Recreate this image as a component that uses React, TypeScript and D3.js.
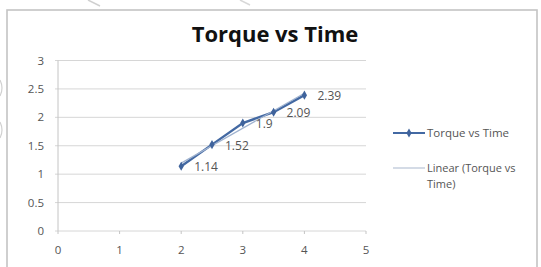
import React from "react";
import * as d3 from "d3";

const times = [2, 2.5, 3, 3.5, 4];
const torques = [1.14, 1.52, 1.9, 2.09, 2.39];
const xTicks = [0, 1, 2, 3, 4, 5];
const yTicks = [0, 0.5, 1, 1.5, 2, 2.5, 3];
const title = "Torque vs Time";
const legendSeries = "Torque vs Time";
const legendTrend = ["Linear (Torque vs", "Time)"];

const W = 541;
const H = 267;
const FONT = "'Open Sans', 'DejaVu Sans', sans-serif";

export default function App() {
  const x = d3.scaleLinear().domain([0, 5]).range([58, 366]);
  const y = d3.scaleLinear().domain([0, 3]).range([231, 60.5]);

  const pts = times.map((t, i) => ({ t, v: torques[i] }));
  const line = d3
    .line<{ t: number; v: number }>()
    .x((d) => x(d.t))
    .y((d) => y(d.v));

  // least squares trend line
  const mx = d3.mean(times) as number;
  const my = d3.mean(torques) as number;
  const sxy = d3.sum(times.map((t, i) => (t - mx) * (torques[i] - my)));
  const sxx = d3.sum(times.map((t) => (t - mx) * (t - mx)));
  const slope = sxy / sxx;
  const icpt = my - slope * mx;
  const tmin = d3.min(times) as number;
  const tmax = d3.max(times) as number;

  const diamond = d3.symbol().type(d3.symbolDiamond).size(24)() as string;

  return (
    <div style={{ position: "fixed", left: 0, top: 0 }}>
      <svg width={W} height={H} style={{ display: "block", background: "#fff" }}>
        {/* scan artifacts outside the chart */}
        <path d="M88,0 L100,6" stroke="#d0d0d0" strokeWidth={1.5} fill="none" />
        <path d="M240,0 L250,5" stroke="#d8d8d8" strokeWidth={1.5} fill="none" />
        <path d="M0,80 Q4,88 0,96" stroke="#d0d0d0" strokeWidth={1.2} fill="none" />
        <path d="M0,122 Q4,130 0,138" stroke="#d0d0d0" strokeWidth={1.2} fill="none" />

        {/* chart border */}
        <rect x={7} y={10} width={530} height={270} fill="#fff" stroke="#c4c4c4" strokeWidth={1.6} />

        {/* title */}
        <text x={275} y={42} textAnchor="middle" fontFamily={FONT} fontWeight={700} fontSize={22} fill="#111">
          {title}
        </text>

        {/* gridlines */}
        {yTicks.map((v) => (
          <line key={"g" + v} x1={x(0) - 3} x2={x(5)} y1={y(v)} y2={y(v)} stroke="#d6d6d6" strokeWidth={1} />
        ))}
        {/* y axis */}
        <line x1={x(0)} x2={x(0)} y1={y(3)} y2={y(0)} stroke="#c4c4c4" strokeWidth={1} />
        {/* x ticks */}
        {xTicks.map((v) => (
          <line key={"xt" + v} x1={x(v)} x2={x(v)} y1={y(0)} y2={y(0) + 3} stroke="#c4c4c4" strokeWidth={1} />
        ))}

        {/* y tick labels */}
        {yTicks.map((v) => (
          <text key={"yl" + v} x={44} y={y(v)} dy="0.35em" textAnchor="end" fontFamily={FONT} fontSize={11.5} fill="#555">
            {String(v)}
          </text>
        ))}
        {/* x tick labels */}
        {xTicks.map((v) => (
          <text key={"xl" + v} x={x(v)} y={250} dy="0.35em" textAnchor="middle" fontFamily={FONT} fontSize={11.5} fill="#555">
            {String(v)}
          </text>
        ))}

        {/* series line */}
        <path d={line(pts) as string} fill="none" stroke="#4369a3" strokeWidth={2.4} />
        {/* trend line */}
        <line
          x1={x(tmin)}
          y1={y(icpt + slope * tmin)}
          x2={x(tmax)}
          y2={y(icpt + slope * tmax)}
          stroke="#9fb2cf"
          strokeWidth={1.2}
        />
        {/* markers */}
        {pts.map((d) => (
          <path key={"m" + d.t} d={diamond} transform={`translate(${x(d.t)},${y(d.v)})`} fill="#3f639c" />
        ))}
        {/* data labels */}
        {pts.map((d) => (
          <text key={"dl" + d.t} x={x(d.t) + 13} y={y(d.v) + 1} dy="0.35em" fontFamily={FONT} fontSize={12} fill="#555">
            {String(d.v)}
          </text>
        ))}

        {/* legend */}
        <line x1={393} x2={425} y1={133} y2={133} stroke="#4369a3" strokeWidth={2} />
        <path d={diamond} transform="translate(409,133)" fill="#3f639c" />
        <text x={427} y={133} dy="0.35em" fontFamily={FONT} fontSize={11.5} fill="#555">
          {legendSeries}
        </text>
        <line x1={393} x2={425} y1={168} y2={168} stroke="#b8c4d6" strokeWidth={1.2} />
        {legendTrend.map((s, i) => (
          <text key={"lt" + i} x={427} y={168 + i * 16} dy="0.35em" fontFamily={FONT} fontSize={11} fill="#555">
            {s}
          </text>
        ))}
      </svg>
    </div>
  );
}
